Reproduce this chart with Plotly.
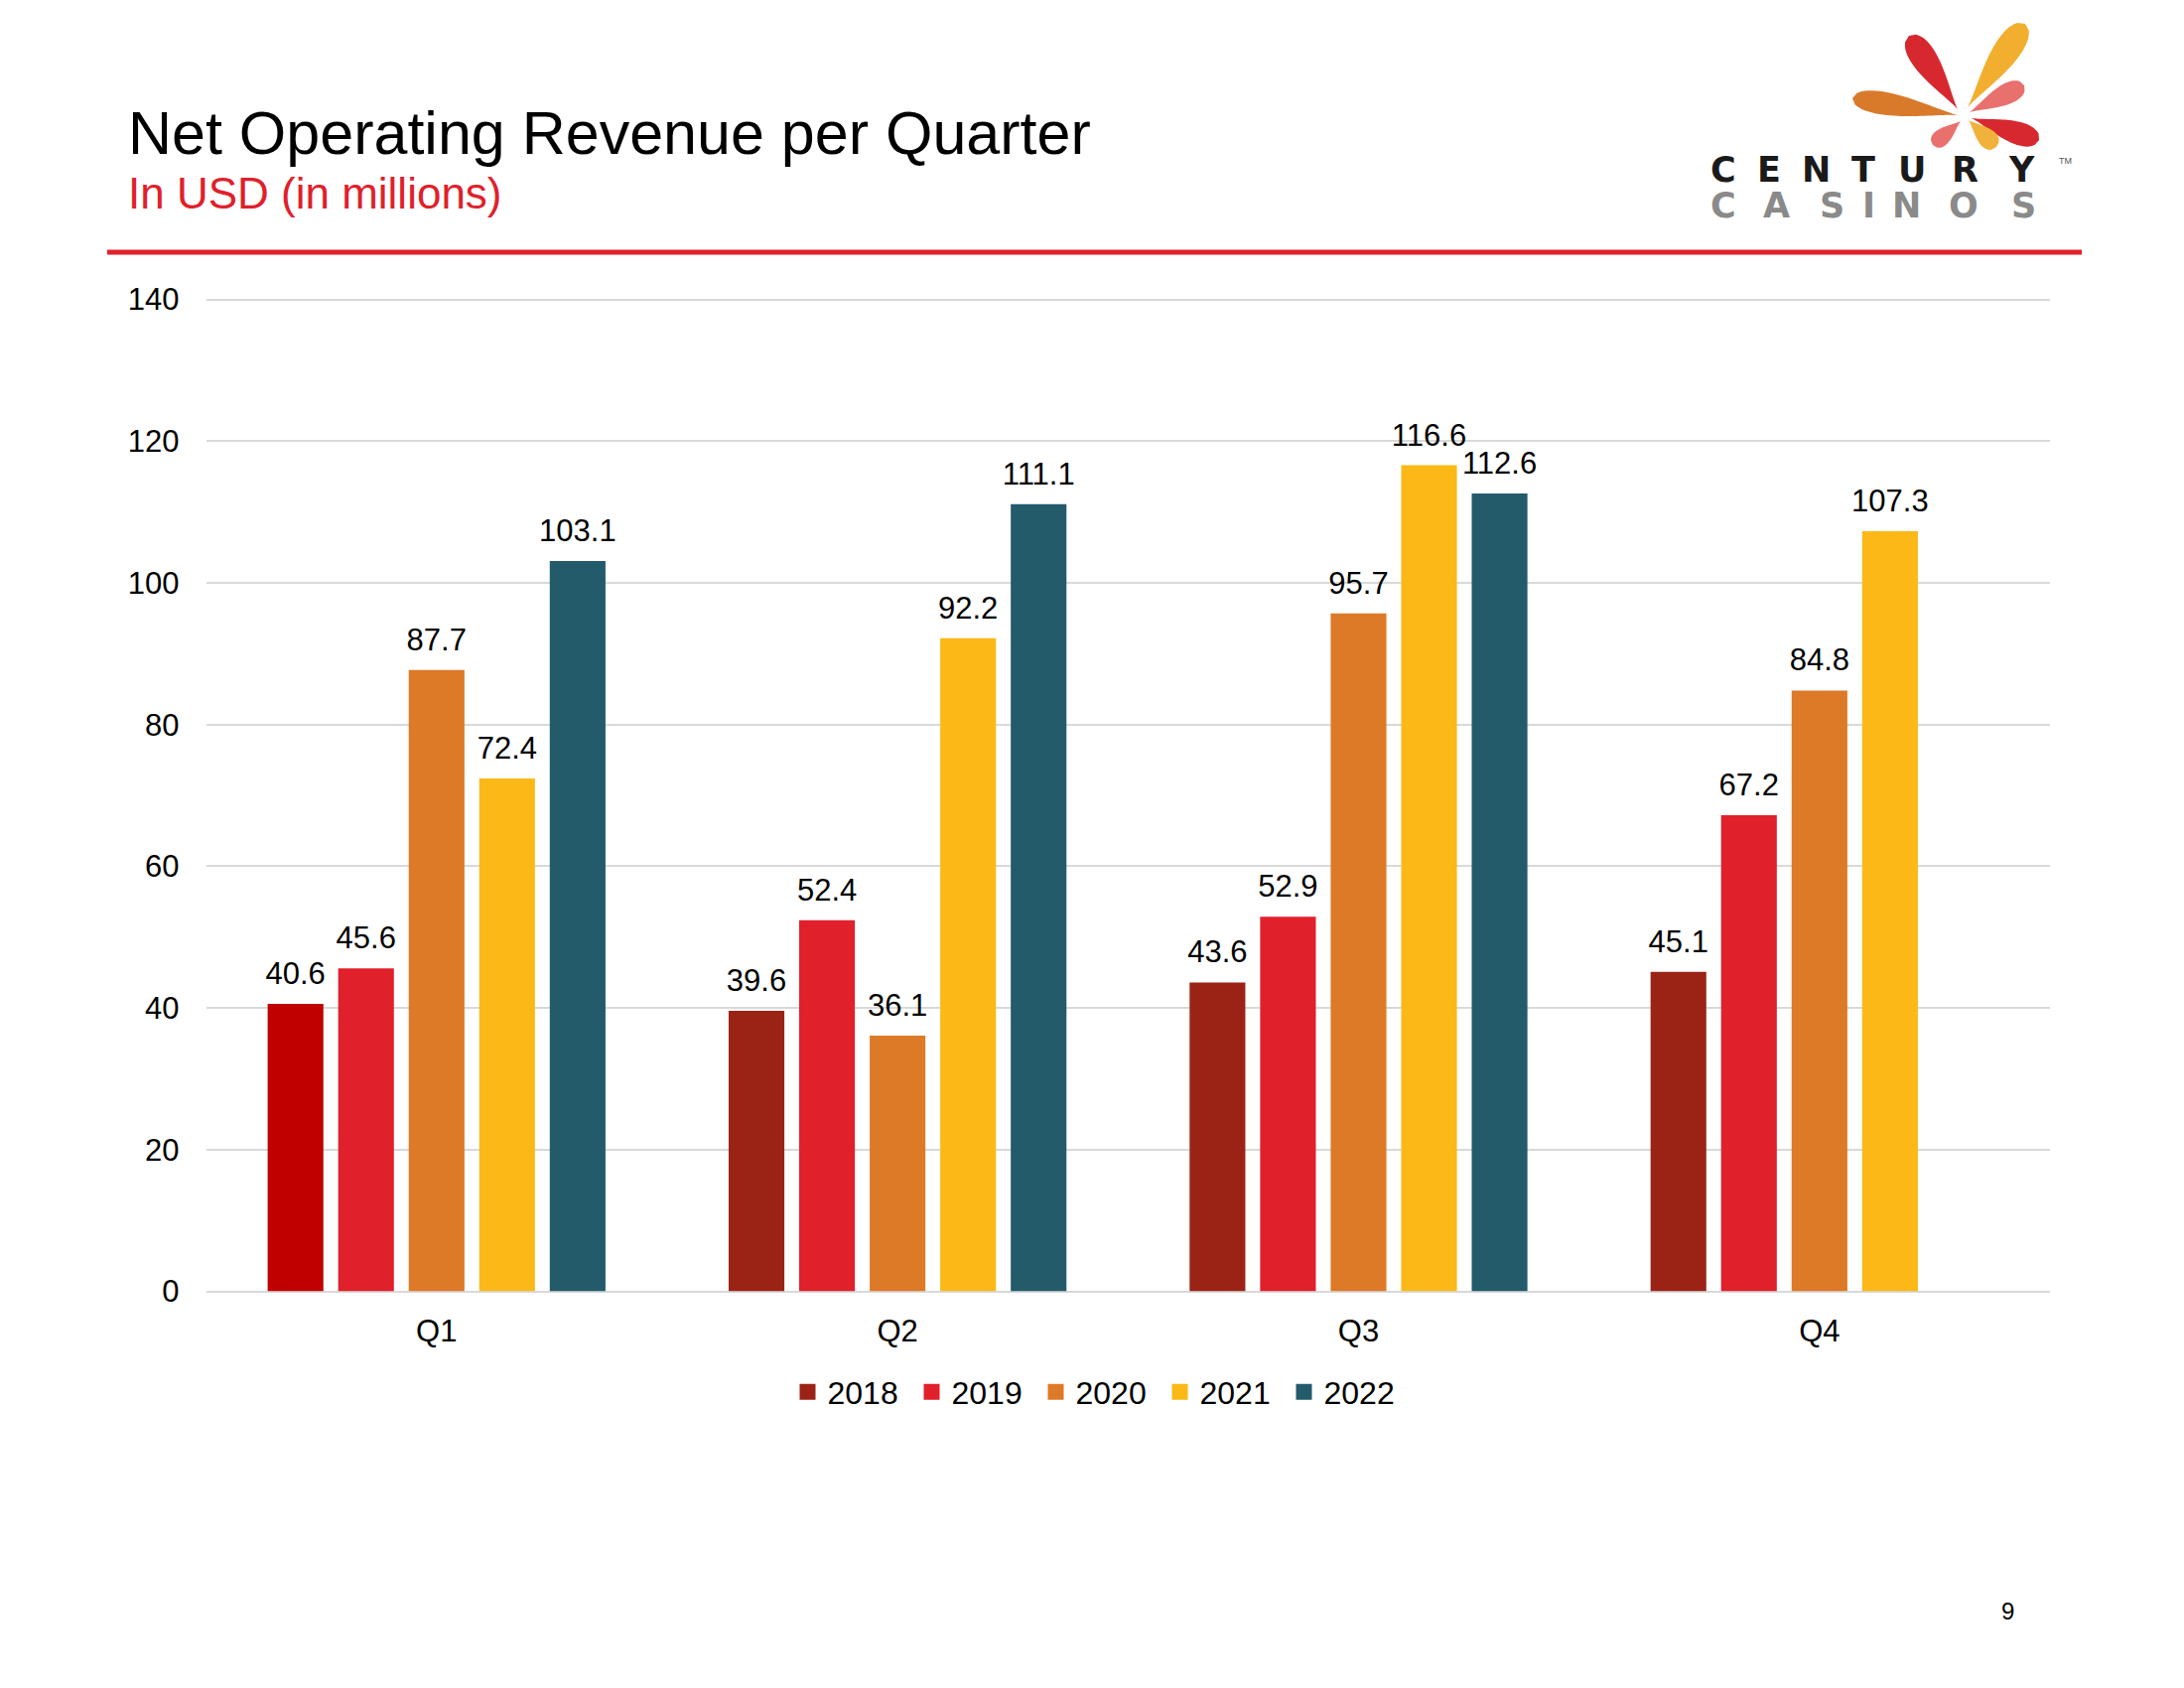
import numpy as np
import plotly.graph_objects as go

W, H = 2200, 1700

# ---------------- data ----------------
quarters = ["Q1", "Q2", "Q3", "Q4"]
years = ["2018", "2019", "2020", "2021", "2022"]
rev_2018 = [40.6, 39.6, 43.6, 45.1]
rev_2019 = [45.6, 52.4, 52.9, 67.2]
rev_2020 = [87.7, 36.1, 95.7, 84.8]
rev_2021 = [72.4, 92.2, 116.6, 107.3]
rev_2022 = [103.1, 111.1, 112.6, None]
y_ticks = [0, 20, 40, 60, 80, 100, 120, 140]

title_text = "Net Operating Revenue per Quarter"
subtitle_text = "In USD (in millions)"
page_number = "9"
logo_line1 = "CENTURY"
logo_line2 = "CASINOS"

# ---------------- style ----------------
FONT = "Liberation Sans, Arial, sans-serif"
series = [rev_2018, rev_2019, rev_2020, rev_2021, rev_2022]
legend_colors = ["#9B2316", "#E0202B", "#DD7A28", "#FBB817", "#235B6B"]
bar_colors = [
    ["#C00000", "#9B2316", "#9B2316", "#9B2316"],
    "#E0202B",
    "#DD7A28",
    "#FBB817",
    "#235B6B",
]
BARGAP = 0.235
Y_MAX = 140.4
PX_PER_UNIT = 999.0 / 140.0
Y_BOTTOM_PX = 1300.6


def px(x):
    return x / W


def py(y):
    return 1 - y / H


fig = go.Figure()

for year, vals, col in zip(years, series, bar_colors):
    fig.add_trace(go.Bar(
        name=year, x=quarters, y=vals,
        marker=dict(color=col, line=dict(width=0)),
        showlegend=False, hoverinfo="x+y+name",
    ))

# value labels, grouped like the bars
for year, vals in zip(years, series):
    fig.add_trace(go.Scatter(
        x=quarters, y=vals, mode="markers+text",
        text=[("%.1f" % v) if v is not None else "" for v in vals],
        textposition="top center",
        textfont=dict(family=FONT, size=31, color="#000000"),
        marker=dict(size=18, opacity=0, color="white"),
        cliponaxis=False, showlegend=False, hoverinfo="skip",
    ))

# legend entries (square swatches) on a hidden overlay axis
for year, col in zip(years, legend_colors):
    fig.add_trace(go.Scatter(
        name=year, x=[None], y=[None], mode="markers",
        marker=dict(symbol="square", size=16, color=col),
        xaxis="x2", yaxis="y2", showlegend=True, hoverinfo="skip",
    ))

y_top_px = Y_BOTTOM_PX - Y_MAX * PX_PER_UNIT

fig.update_layout(
    width=W, height=H,
    margin=dict(l=0, r=0, t=0, b=0, autoexpand=False),
    paper_bgcolor="white", plot_bgcolor="white",
    barmode="group", bargap=BARGAP, bargroupgap=0.21,
    scattermode="group", scattergap=BARGAP,
    font=dict(family=FONT, color="#000000"),
    showlegend=True,
    legend=dict(
        orientation="h", x=px(1106), xanchor="center",
        y=py(1402), yanchor="middle",
        font=dict(family=FONT, size=32, color="#000000"),
        traceorder="normal", itemwidth=30, entrywidth=80,
        bgcolor="rgba(0,0,0,0)",
    ),
    xaxis=dict(
        domain=[px(207.6), px(2065)],
        type="category", categoryorder="array", categoryarray=quarters,
        showgrid=False, showline=False, zeroline=False, ticks="",
        tickfont=dict(family=FONT, size=31, color="#000000"),
        ticklabelstandoff=18,
    ),
    yaxis=dict(
        domain=[py(Y_BOTTOM_PX), py(y_top_px)],
        range=[0, Y_MAX], tickvals=y_ticks,
        showgrid=True, gridcolor="#D9D9D9", gridwidth=1.5,
        zeroline=True, zerolinecolor="#D9D9D9", zerolinewidth=1.5,
        showline=False, ticks="",
        tickfont=dict(family=FONT, size=31, color="#000000"),
        ticklabelstandoff=26,
    ),
    xaxis2=dict(overlaying="x", visible=False, range=[0, 1]),
    yaxis2=dict(overlaying="y", visible=False, range=[0, 1]),
)

annotations = [
    dict(text=title_text, x=px(127), y=py(134.5), xref="paper", yref="paper",
         xanchor="left", yanchor="middle", showarrow=False,
         font=dict(family=FONT, size=61, color="#000000")),
    dict(text=subtitle_text, x=px(127), y=py(194.5), xref="paper", yref="paper",
         xanchor="left", yanchor="middle", showarrow=False,
         font=dict(family=FONT, size=44, color="#E0202B")),
    dict(text=page_number, x=px(2022), y=py(1622), xref="paper", yref="paper",
         xanchor="center", yanchor="middle", showarrow=False,
         font=dict(family=FONT, size=24, color="#000000")),
]

# logo lettering (extended typeface approximated by spaced letters)
LOGO_FONT = "DejaVu Sans, sans-serif"
line1_cx = [1736, 1782, 1829, 1877, 1926, 1979, 2036]
line2_cx = [1736, 1789, 1845, 1882, 1920, 1978, 2039]
for ch, cx in zip(logo_line1, line1_cx):
    annotations.append(dict(text="<b>%s</b>" % ch, x=px(cx), y=py(171), xref="paper", yref="paper",
                            xanchor="center", yanchor="middle", showarrow=False,
                            font=dict(family=LOGO_FONT, size=35, color="#1A1A1A")))
for ch, cx in zip(logo_line2, line2_cx):
    annotations.append(dict(text="<b>%s</b>" % ch, x=px(cx), y=py(207), xref="paper", yref="paper",
                            xanchor="center", yanchor="middle", showarrow=False,
                            font=dict(family=LOGO_FONT, size=35, color="#8A8A8A")))
annotations.append(dict(text="TM", x=px(2080), y=py(162), xref="paper", yref="paper",
                        xanchor="center", yanchor="middle", showarrow=False,
                        font=dict(family=FONT, size=9, color="#555555")))

shapes = [
    dict(type="line", xref="paper", yref="paper",
         x0=px(108), x1=px(2097), y0=py(254), y1=py(254),
         line=dict(color="#E0202B", width=5)),
]


def petal_path(base, tip, width, n=30):
    bx, by = base
    tx, ty = tip
    dx, dy = tx - bx, ty - by
    L = np.hypot(dx, dy)
    ux, uy = dx / L, dy / L
    nx, ny = -uy, ux
    us = np.linspace(0, 1, n)
    prof = us ** 1.3 * np.sqrt(1 - us)
    prof = prof / prof.max()
    left = [(bx + ux * L * u + nx * width / 2 * p, by + uy * L * u + ny * width / 2 * p)
            for u, p in zip(us, prof)]
    right = [(bx + ux * L * u - nx * width / 2 * p, by + uy * L * u - ny * width / 2 * p)
             for u, p in zip(us[::-1], prof[::-1])]
    pts = left + right
    d = "M " + " L ".join("%.5f,%.5f" % (px(x), py(y)) for x, y in pts) + " Z"
    return d


petals = [
    ((1972, 110), (1923, 36), 26, "#D7282F"),
    ((1982, 108), (2040, 24), 27, "#F2AE2E"),
    ((1972, 116), (1866, 99), 23, "#D97A2B"),
    ((1984, 113), (2039, 86), 21, "#E8716D"),
    ((1986, 119), (2054, 141), 23, "#D7282F"),
    ((1983, 121), (2011, 148), 19, "#F0B23A"),
    ((1975, 122), (1947, 146), 17, "#E8716D"),
]
for base, tip, w, c in petals:
    shapes.append(dict(type="path", xref="paper", yref="paper",
                       path=petal_path(base, tip, w), fillcolor=c,
                       line=dict(width=0), layer="above"))

fig.update_layout(annotations=annotations, shapes=shapes)

fig.write_html("out.html")
